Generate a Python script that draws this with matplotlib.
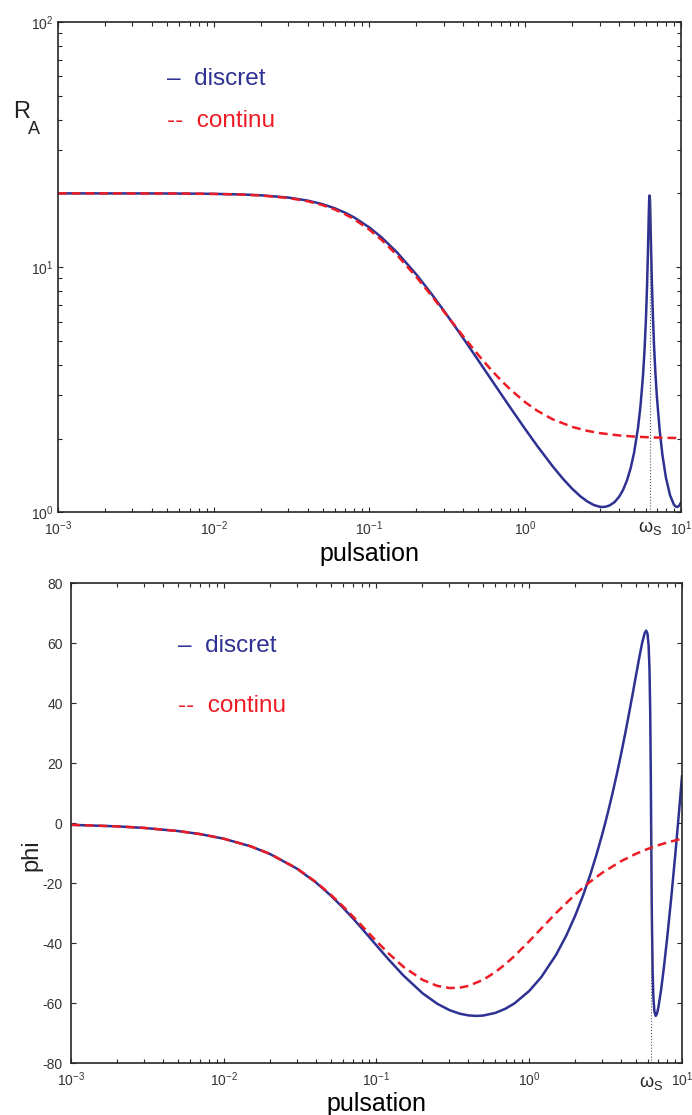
import numpy as np
import matplotlib.pyplot as plt
from matplotlib.ticker import LogLocator, FixedLocator, NullFormatter

plt.rcParams['font.family'] = ['Liberation Sans', 'DejaVu Sans']
plt.rcParams['mathtext.fontset'] = 'custom'
plt.rcParams['mathtext.rm'] = 'Liberation Sans'
plt.rcParams['mathtext.it'] = 'Liberation Sans:italic'
plt.rcParams['mathtext.default'] = 'regular'
plt.rcParams['axes.unicode_minus'] = False

# --- donnees ---
# systeme discret (bleu)
w_disc = [0.001, 0.002, 0.003, 0.005, 0.007, 0.01, 0.015, 0.02, 0.03, 0.04,
          0.05, 0.06, 0.07, 0.08, 0.1, 0.12, 0.15, 0.2, 0.25, 0.3,
          0.35, 0.4, 0.45, 0.5, 0.6, 0.7, 0.8, 1.0, 1.2, 1.5,
          1.75, 2.0, 2.25, 2.5, 2.75, 3.0, 3.1416, 3.3, 3.5, 3.75,
          4.0, 4.25, 4.5, 4.75, 5.0, 5.3, 5.5, 5.7, 5.83, 5.95,
          6.05, 6.13, 6.2, 6.25, 6.2832, 6.32, 6.35, 6.43, 6.5, 6.6,
          6.73, 6.85, 7.0, 7.3, 7.6, 8.0, 8.5, 9.0, 9.25, 9.5,
          9.75, 10.0]
ra_disc = [20.0, 19.996, 19.992, 19.978, 19.956, 19.91, 19.801, 19.649, 19.236, 18.699,
           18.071, 17.382, 16.662, 15.933, 14.512, 13.204, 11.506, 9.337, 7.787, 6.652,
           5.795, 5.128, 4.598, 4.167, 3.511, 3.038, 2.682, 2.186, 1.859, 1.542,
           1.37, 1.25, 1.166, 1.109, 1.073, 1.055, 1.053, 1.056, 1.07, 1.103,
           1.157, 1.237, 1.352, 1.515, 1.755, 2.219, 2.736, 3.607, 4.568, 6.058,
           8.254, 11.345, 15.702, 19.077, 19.6, 18.881, 16.893, 11.671, 8.759, 6.338,
           4.629, 3.704, 2.972, 2.153, 1.716, 1.389, 1.176, 1.077, 1.057, 1.053,
           1.067, 1.098]
phi_disc = [-0.52, -1.03, -1.55, -2.58, -3.6, -5.14, -7.68, -10.19, -15.05, -19.66,
            -23.98, -27.97, -31.63, -34.96, -40.69, -45.34, -50.69, -56.59, -60.11, -62.21,
            -63.4, -63.99, -64.16, -64.03, -63.16, -61.74, -59.99, -55.85, -51.22, -43.79,
            -37.35, -30.77, -24.1, -17.38, -10.62, -3.84, 0.0, 4.3, 9.72, 16.48,
            23.21, 29.89, 36.48, 42.95, 49.21, 56.22, 60.3, 63.35, 64.16, 63.08,
            59.12, 51.17, 35.95, 16.55, 0.0, -18.22, -30.5, -50.2, -57.98, -62.69,
            -64.16, -63.52, -61.47, -55.48, -48.38, -38.21, -24.99, -11.52, -4.74, 2.04,
            8.82, 15.59]

# systeme continu (rouge)
w_cont = [0.001, 0.002, 0.003, 0.005, 0.007, 0.01, 0.015, 0.02, 0.03, 0.04,
          0.05, 0.06, 0.07, 0.08, 0.1, 0.12, 0.15, 0.2, 0.25, 0.3,
          0.35, 0.4, 0.5, 0.6, 0.7, 0.8, 1.0, 1.2, 1.5, 2.0,
          2.5, 3.0, 4.0, 5.0, 6.0, 7.0, 8.0, 10.0]
ra_cont = [20.0, 19.996, 19.991, 19.975, 19.952, 19.902, 19.781, 19.616, 19.165, 18.584,
           17.911, 17.181, 16.425, 15.667, 14.213, 12.896, 11.218, 9.121, 7.656, 6.603,
           5.821, 5.224, 4.385, 3.834, 3.453, 3.177, 2.814, 2.594, 2.398, 2.233,
           2.152, 2.107, 2.061, 2.039, 2.027, 2.02, 2.015, 2.01]
phi_cont = [-0.52, -1.03, -1.55, -2.58, -3.6, -5.14, -7.67, -10.16, -14.98, -19.51,
            -23.7, -27.53, -30.99, -34.09, -39.29, -43.35, -47.78, -52.13, -54.16, -54.87,
            -54.77, -54.16, -52.13, -49.57, -46.88, -44.22, -39.29, -35.04, -29.88, -23.7,
            -19.51, -16.53, -12.6, -10.16, -8.51, -7.31, -6.41, -5.14]

w_s = 6.2832          # pulsation d'echantillonnage
ra_ws = 19.6
phi_ticks = [-80, -60, -40, -20, 0, 20, 40, 60, 80]

BLEU = '#2E3192'
ROUGE = '#ED1C24'
GRIS = '#262626'


def style_axes(ax):
    for s in ax.spines.values():
        s.set_color(GRIS)
        s.set_linewidth(1.2)
    ax.tick_params(which='both', direction='in', top=True, right=True,
                   colors=GRIS, labelcolor='#333333', labelsize=10, width=0.8)
    ax.tick_params(which='major', length=3.8)
    ax.tick_params(which='minor', length=2.6)


fig = plt.figure(figsize=(6.92, 11.15), dpi=100)

# --- module ---
ax1 = fig.add_axes([0.0838, 0.5404, 0.9003, 0.4399])
ax1.plot(w_disc, ra_disc, color=BLEU, lw=1.8)
ax1.plot(w_cont, ra_cont, color=ROUGE, lw=1.8, ls='--', dashes=(3.5, 2.0))
ax1.plot([w_s, w_s], [1, ra_ws], color='#555555', lw=0.8, ls=':')
ax1.set_xscale('log')
ax1.set_yscale('log')
ax1.set_xlim(1e-3, 1e1)
ax1.set_ylim(1, 100)
ax1.xaxis.set_major_locator(LogLocator(base=10, numticks=10))
ax1.xaxis.set_minor_locator(LogLocator(base=10, subs=np.arange(2, 10), numticks=20))
ax1.xaxis.set_minor_formatter(NullFormatter())
ax1.yaxis.set_minor_locator(LogLocator(base=10, subs=np.arange(2, 10), numticks=20))
ax1.yaxis.set_minor_formatter(NullFormatter())
style_axes(ax1)
ax1.tick_params(axis='y', pad=3)
ax1.tick_params(axis='x', pad=5)
ax1.set_xlabel('pulsation', fontsize=18, labelpad=3)
ax1.text(w_s, -0.031, r'$\omega_S$', transform=ax1.get_xaxis_transform(),
         ha='center', va='center', fontsize=13, color='#222222')
ax1.text(0.005, 58.5, '–  discret', color=BLEU, fontsize=17.5, ha='left', va='center')
ax1.text(0.005, 39.6, '--  continu', color=ROUGE, fontsize=17.5, ha='left', va='center')
fig.text(13 / 692, 1 - 112 / 1115, 'R', fontsize=17, ha='left', va='center', color='#222222')
fig.text(28 / 692, 1 - 129 / 1115, 'A', fontsize=13, ha='left', va='center', color='#222222')

# --- phase ---
ax2 = fig.add_axes([0.1026, 0.0462, 0.8829, 0.4309])
ax2.plot(w_disc, phi_disc, color=BLEU, lw=1.8)
ax2.plot(w_cont, phi_cont, color=ROUGE, lw=1.8, ls='--', dashes=(3.5, 2.0))
ax2.plot([w_s, w_s], [-80, 0], color='#555555', lw=0.8, ls=':')
ax2.set_xscale('log')
ax2.set_xlim(1e-3, 1e1)
ax2.set_ylim(-80, 80)
ax2.yaxis.set_major_locator(FixedLocator(phi_ticks))
ax2.set_yticklabels([str(v) for v in phi_ticks])
ax2.xaxis.set_major_locator(LogLocator(base=10, numticks=10))
ax2.xaxis.set_minor_locator(LogLocator(base=10, subs=np.arange(2, 10), numticks=20))
ax2.xaxis.set_minor_formatter(NullFormatter())
style_axes(ax2)
ax2.tick_params(axis='y', pad=6)
ax2.tick_params(axis='x', pad=5)
ax2.set_xlabel('pulsation', fontsize=18, labelpad=2)
fig.text(31 / 692, 1 - 855 / 1115, 'phi', fontsize=17, rotation=90,
         ha='center', va='center', color='#222222')
ax2.text(w_s, -0.04, r'$\omega_S$', transform=ax2.get_xaxis_transform(),
         ha='center', va='center', fontsize=13, color='#222222', math_fontfamily='stix')
ax2.text(0.005, 59, '–  discret', color=BLEU, fontsize=17.5, ha='left', va='center')
ax2.text(0.005, 39, '--  continu', color=ROUGE, fontsize=17.5, ha='left', va='center')

fig.savefig('out.png', dpi=100)
